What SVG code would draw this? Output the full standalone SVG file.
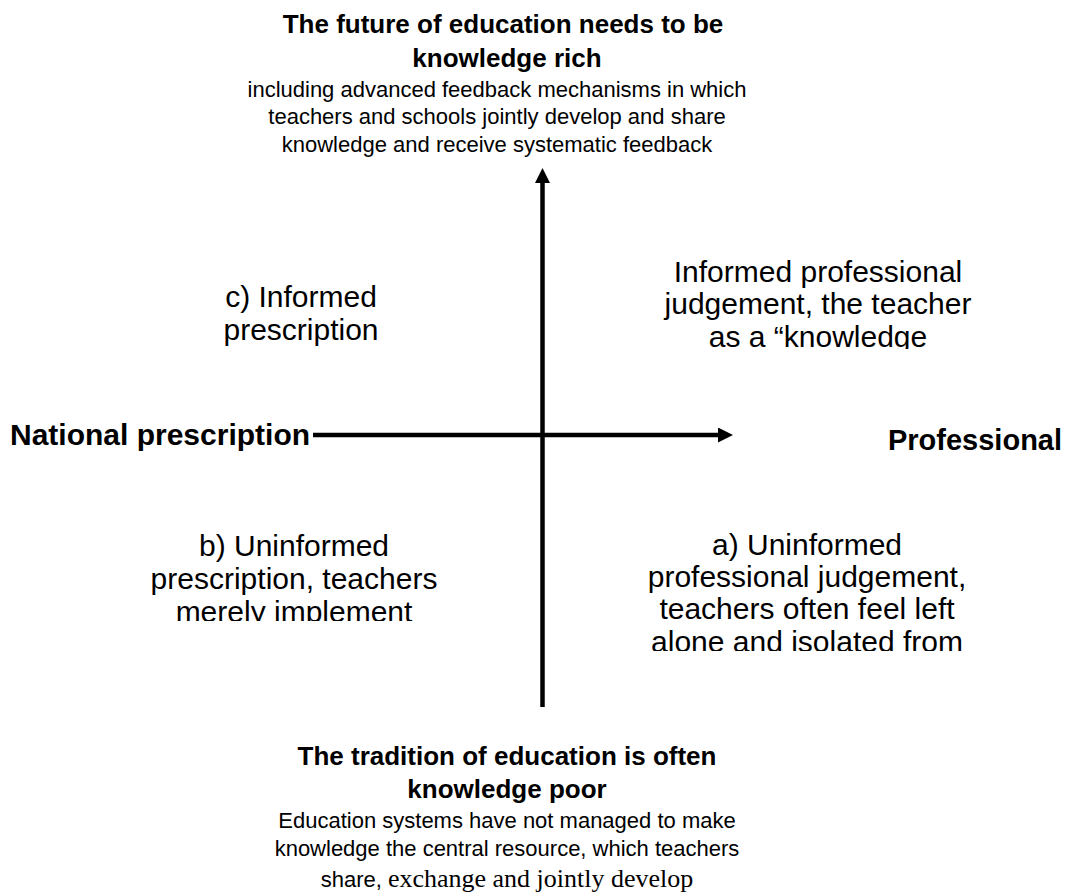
<svg xmlns="http://www.w3.org/2000/svg" width="1081" height="895" viewBox="0 0 1081 895">
<style>
text{font-family:"Liberation Sans",Arial,sans-serif;fill:#000;text-anchor:middle}
.h{font-weight:bold;font-size:26px}
.s{font-size:22px}
.q{font-size:30px}
.ax{font-weight:bold;font-size:29px}
.serif{font-family:"Liberation Serif","Times New Roman",serif;font-size:26px}
.axis{stroke:#000;stroke-width:4.5;fill:none}
</style>
<defs>
<marker id="ah" markerUnits="userSpaceOnUse" markerWidth="15" markerHeight="15" refX="0" refY="7.5" orient="auto" viewBox="0 0 15 15">
<path d="M0,0 L15,7.5 L0,15 z" fill="#000"/>
</marker>
<clipPath id="cTR"><rect x="600" y="240" width="420" height="109"/></clipPath>
<clipPath id="cBL"><rect x="150" y="520" width="300" height="101"/></clipPath>
<clipPath id="cBR"><rect x="620" y="520" width="380" height="131"/></clipPath>
</defs>
<rect width="1081" height="895" fill="#fff"/>
<g id="connectors">
<line class="axis" x1="542.5" y1="707" x2="542.5" y2="183" marker-end="url(#ah)"/>
<line class="axis" x1="313" y1="435" x2="718" y2="435" marker-end="url(#ah)"/>
</g>
<g id="top">
<text class="h" x="503" y="33">The future of education needs to be</text>
<text class="h" x="507" y="67">knowledge rich</text>
<text class="s" x="497" y="97">including advanced feedback mechanisms in which</text>
<text class="s" x="497" y="124">teachers and schools jointly develop and share</text>
<text class="s" x="497" y="152">knowledge and receive systematic feedback</text>
</g>
<g id="bottom">
<text class="h" x="507" y="765">The tradition of education is often</text>
<text class="h" x="507" y="798">knowledge poor</text>
<text class="s" x="507" y="828">Education systems have not managed to make</text>
<text class="s" x="507" y="856">knowledge the central resource, which teachers</text>
<text x="507" y="887"><tspan class="s">share, </tspan><tspan class="serif">exchange and jointly develop</tspan></text>
</g>
<g id="left">
<text class="ax" x="10" y="445" style="text-anchor:start;font-size:30px">National prescription</text>
</g>
<g id="right">
<text class="ax" x="975" y="450">Professional</text>
</g>
<g id="quadrant-c">
<text class="q" x="301" y="307">c) Informed</text>
<text class="q" x="301" y="340">prescription</text>
</g>
<g id="quadrant-tr" clip-path="url(#cTR)">
<text class="q" x="818" y="282">Informed professional</text>
<text class="q" x="818" y="314">judgement, the teacher</text>
<text class="q" x="818" y="347">as a “knowledge</text>
</g>
<g id="quadrant-b" clip-path="url(#cBL)">
<text class="q" x="294" y="556">b) Uninformed</text>
<text class="q" x="294" y="589">prescription, teachers</text>
<text class="q" x="294" y="622">merely implement</text>
</g>
<g id="quadrant-a" clip-path="url(#cBR)">
<text class="q" x="807" y="555">a) Uninformed</text>
<text class="q" x="807" y="587">professional judgement,</text>
<text class="q" x="807" y="619">teachers often feel left</text>
<text class="q" x="807" y="652">alone and isolated from</text>
</g>
</svg>
